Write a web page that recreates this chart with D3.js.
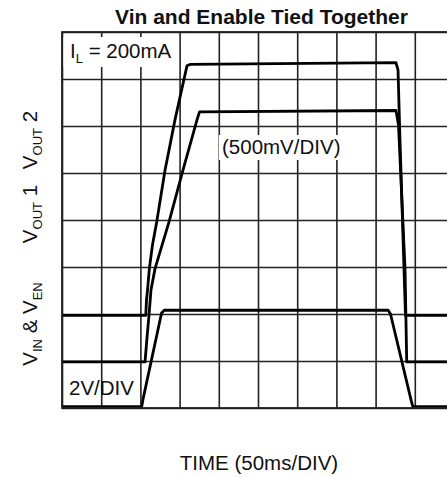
<!DOCTYPE html>
<html>
<head>
<meta charset="utf-8">
<script src="https://cdn.jsdelivr.net/npm/d3@7"></script>
<style>
  body { margin: 0; background: #fff; }
  text { font-family: "Liberation Sans", Arial, sans-serif; fill: #111; }
</style>
</head>
<body>
<div id="chart"></div>
<script>
var svgWidth = 447;
var svgHeight = 477;

// plot frame (right edge runs past the picture, like the scan)
var margin = { top: 32, left: 62 };
var width = 392;
var height = 376;

// time in ms (50 ms / div), level in scope divisions
var gridTimes = d3.range(0, 501, 50);
var gridDivs = d3.range(0, 9, 1);

// V_IN & V_EN trace
var vinTime = [0, 101.7, 103.5, 127, 130.5, 416, 419, 445.5, 447.5, 500];
var vinLevel = [0.03, 0.03, 0.2, 2.02, 2.08, 2.08, 2.0, 0.15, 0.03, 0.03];

// V_OUT 2 trace (upper)
var vout2Time = [0, 106.8, 107.8, 109.1, 111.4, 115.4, 120.8, 131.4, 144.1, 159.4, 163.3, 426, 428.6, 431.1, 436.2, 438.1, 500];
var vout2Level = [1.97, 1.97, 2.3, 2.51, 2.96, 3.47, 3.96, 5.06, 6.13, 7.28, 7.31, 7.35, 7.19, 5.7, 2.98, 1.97, 1.97];

// V_OUT 1 trace (lower)
var vout1Time = [0, 105.9, 108.4, 111.0, 113.5, 118.6, 136.5, 154.3, 172.2, 175.4, 426, 429.2, 437.5, 439.7, 500];
var vout1Level = [0.98, 0.98, 1.49, 1.98, 2.51, 2.96, 3.96, 5.06, 6.13, 6.3, 6.33, 6.02, 2.98, 0.98, 0.98];

var svg = d3.select('#chart')
  .append('svg')
  .attr('width', svgWidth)
  .attr('height', svgHeight);

var chartGroup = svg.append('g')
  .attr('transform', `translate(${margin.left}, ${margin.top})`);

var xScale = d3.scaleLinear().domain([0, 500]).range([0, width]);
var yScale = d3.scaleLinear().domain([0, 8]).range([height, 0]);

// grid via axes
var xGrid = chartGroup.append('g')
  .attr('transform', `translate(0, ${height})`)
  .call(d3.axisBottom(xScale).tickValues(gridTimes).tickSize(height).tickFormat(''))
  .call(g => g.select('.domain').remove());
xGrid.selectAll('line')
  .attr('y2', -height)
  .attr('stroke', '#222')
  .attr('stroke-width', 1.6);

var yGrid = chartGroup.append('g')
  .call(d3.axisLeft(yScale).tickValues(gridDivs).tickSize(-width).tickFormat(''))
  .call(g => g.select('.domain').remove());
yGrid.selectAll('line')
  .attr('stroke', '#222')
  .attr('stroke-width', 1.6);

// label backgrounds hide the grid behind them
function labelBox(x, y, w, h) {
  chartGroup.append('rect')
    .attr('x', x - margin.left).attr('y', y - margin.top)
    .attr('width', w).attr('height', h)
    .attr('fill', '#fff');
}
labelBox(63.5, 37, 114, 30);
labelBox(219, 135, 126, 25);

// traces
function toPoints(times, levels) {
  return times.map((t, i) => [t, levels[i]]);
}
var line = d3.line()
  .x(d => xScale(d[0]))
  .y(d => yScale(d[1]));

[toPoints(vinTime, vinLevel), toPoints(vout2Time, vout2Level), toPoints(vout1Time, vout1Level)]
  .forEach(function(pts) {
    chartGroup.append('path')
      .attr('d', line(pts))
      .attr('fill', 'none')
      .attr('stroke', '#000')
      .attr('stroke-width', 2.8)
      .attr('stroke-linejoin', 'round');
  });

// frame
chartGroup.append('rect')
  .attr('width', width).attr('height', height)
  .attr('fill', 'none')
  .attr('stroke', '#222')
  .attr('stroke-width', 1.8);

// title
svg.append('text')
  .attr('x', 261.5).attr('y', 24)
  .attr('text-anchor', 'middle')
  .style('font-size', '21px')
  .style('font-weight', 'bold')
  .text('Vin and Enable Tied Together');

// in-plot labels
var il = svg.append('text').attr('x', 70).attr('y', 58).style('font-size', '20.5px');
il.append('tspan').text('I');
il.append('tspan').attr('dy', 5).style('font-size', '13px').text('L');
il.append('tspan').attr('dy', -5).text(' = 200mA');

svg.append('text')
  .attr('x', 222).attr('y', 154)
  .style('font-size', '20.5px')
  .text('(500mV/DIV)');

svg.append('text')
  .attr('x', 69).attr('y', 395)
  .style('font-size', '20.5px')
  .text('2V/DIV');

// x axis label
svg.append('text')
  .attr('x', 259).attr('y', 470)
  .attr('text-anchor', 'middle')
  .style('font-size', '20.5px')
  .text('TIME (50ms/DIV)');

// rotated y labels
function yLabel(cy, parts) {
  var t = svg.append('text')
    .attr('transform', `translate(37, ${cy}) rotate(-90)`)
    .attr('text-anchor', 'middle')
    .style('font-size', '20.5px');
  parts.forEach(function(p) {
    var s = t.append('tspan').text(p[0]);
    if (p[1] === 'sub') s.attr('dy', 5).style('font-size', '13px');
    if (p[1] === 'up') s.attr('dy', -5);
  });
}
yLabel(140, [['V'], ['OUT', 'sub'], ['\u00a02', 'up']]);
yLabel(214, [['V'], ['OUT', 'sub'], ['\u00a01', 'up']]);
yLabel(324, [['V'], ['IN', 'sub'], [' & V', 'up'], ['EN', 'sub']]);
</script>
</body>
</html>
